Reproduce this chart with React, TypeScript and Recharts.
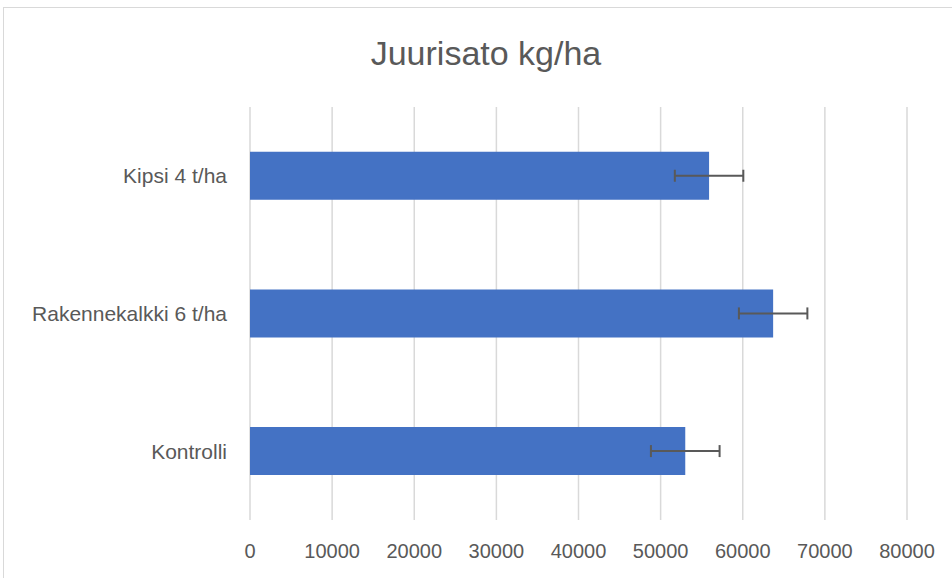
import { BarChart, Bar, XAxis, YAxis, CartesianGrid, ErrorBar } from 'recharts';

const categories = ['Kipsi 4 t/ha', 'Rakennekalkki 6 t/ha', 'Kontrolli'];
const yieldKgHa = [55900, 63700, 53000];
const errorKgHa = [4170, 4170, 4180];
const xTicks = [0, 10000, 20000, 30000, 40000, 50000, 60000, 70000, 80000];

const data = categories.map((name, i) => ({ name, value: yieldKgHa[i], err: errorKgHa[i] }));

const font = 'Liberation Sans, Arial, sans-serif';

const App = () => {
    return (
        <div style={{ position: 'absolute', left: 0, top: 0, width: 952, height: 578, overflow: 'hidden', background: '#fff', fontFamily: font }}>
            <div style={{ position: 'absolute', left: 3, top: 7, width: 980, height: 600, border: '1px solid #d9d9d9' }} />
            <div style={{ position: 'absolute', left: 0, top: 34, width: 972, textAlign: 'center', fontSize: 34, lineHeight: '39px', color: '#595959' }}>
                Juurisato kg/ha
            </div>
            <BarChart
                width={952}
                height={578}
                data={data}
                layout="vertical"
                barCategoryGap="32.5%"
                margin={{ top: 107, right: 45, left: 0, bottom: 0 }}
                style={{ position: 'absolute', left: 0, top: 0 }}>
                <CartesianGrid horizontal={false} stroke="#d9d9d9" strokeWidth={1.5} />
                <XAxis
                    type="number"
                    domain={[0, 80000]}
                    ticks={xTicks}
                    interval={0}
                    axisLine={false}
                    tickLine={false}
                    tickSize={0}
                    tickMargin={24}
                    height={58}
                    tick={{ fill: '#595959', fontSize: 20, fontFamily: font }} />
                <YAxis
                    type="category"
                    dataKey="name"
                    width={250}
                    axisLine={false}
                    tickLine={false}
                    tickSize={0}
                    tickMargin={23}
                    tick={{ fill: '#595959', fontSize: 21, fontFamily: font }} />
                <Bar dataKey="value" fill="#4472c4" isAnimationActive={false}>
                    <ErrorBar dataKey="err" direction="x" stroke="#595959" strokeWidth={2} width={6} />
                </Bar>
            </BarChart>
        </div>
    );
};

export default App;
